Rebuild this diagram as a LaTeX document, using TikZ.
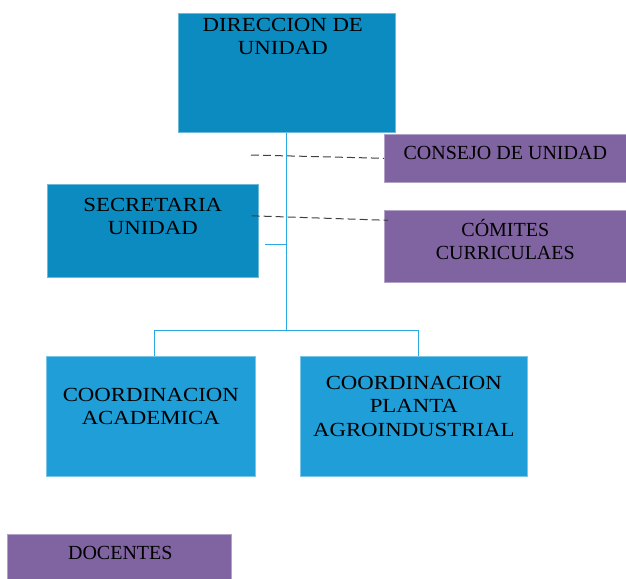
\documentclass[tikz,border=0pt]{standalone}
\usepackage{fontspec}
\setmainfont{Liberation Serif}
\newfontfamily\anchafont[FakeStretch=1.14]{Liberation Serif}
\usepackage{tikz}
\usetikzlibrary{calc}
\usetikzlibrary{positioning}
\definecolor{azulosc}{HTML}{0B8BC0}
\definecolor{azulcla}{HTML}{209ED7}
\definecolor{morado}{HTML}{8064A2}
\definecolor{linea}{HTML}{2AA8E0}
\tikzset{
  caja/.style={draw=#1!60!white, line width=0.6pt, fill=#1, anchor=north west, inner sep=0pt},
  texto/.style={font=\fontsize{20}{23.5}\selectfont, align=center, inner sep=0pt, anchor=north, text=black},
  ancho/.style={texto, font=\anchafont\fontsize{20}{23.5}\selectfont},
  conn/.style={draw=linea, line width=0.9pt},
  rayas/.style={draw=black!75, line width=1pt, dash pattern=on 8pt off 4pt}
}

\begin{document}
\begin{tikzpicture}[x=1pt,y=-1pt]
        \useasboundingbox (0,0) rectangle (626,578);

        % top
        \node[caja=azulosc, minimum width=217pt, minimum height=119pt] (dir) at (178,13) {};
        \node[ancho, below=5pt of dir.north, xshift=-4pt] (dirt) {DIRECCION DE\\UNIDAD};

        \node[caja=morado, minimum width=242pt, minimum height=48pt] (cons) at (384,134) {};
        \node[texto, below=12pt of cons.north] (const) {CONSEJO DE UNIDAD};

        % middle
        \node[caja=azulosc, minimum width=211pt, minimum height=93pt] (secr) at (47,184) {};
        \node[ancho, below=14pt of secr.north] (secrt) {SECRETARIA\\UNIDAD};

        \node[caja=morado, minimum width=242pt, minimum height=72pt] (comi) at (384,210) {};
        \node[texto, below=9pt of comi.north] (comit) {CÓMITES\\CURRICULAES};

        % bottom
        \node[caja=azulcla, minimum width=209pt, minimum height=120pt] (acad) at (46,356) {};
        \node[ancho, below=32pt of acad.north] (acadt) {COORDINACION\\ACADEMICA};

        \node[caja=azulcla, minimum width=227pt, minimum height=120pt] (plan) at (300,356) {};
        \node[ancho, below=20pt of plan.north] (plant) {COORDINACION\\PLANTA\\AGROINDUSTRIAL};

        \node[caja=morado, minimum width=224pt, minimum height=46pt] (doce) at (7,534) {};
        \node[texto, below=12pt of doce.north, xshift=1pt] (docet) {DOCENTES};

        % lines
        \coordinate (rama) at ($(dir.south)+(0,198)$);
        \draw[conn] (dir.south) -- (rama);
        \draw[conn] (rama) -| ($(acad.north)+(4,0)$);
        \draw[conn] (rama) -| ($(plan.north)+(5,0)$);
        \coordinate (gancho) at (265,244);
        \draw[conn] (gancho) -- (gancho -| dir.south);

        \coordinate (raya) at (251,155);
        \draw[rayas] (raya) -- ($(cons.west)+(0,0)$);
        \draw[rayas] ($(secr.east)+(-7,-15)$) -- ($(comi.west)+(4,-26)$);

    \end{tikzpicture}
\end{document}
